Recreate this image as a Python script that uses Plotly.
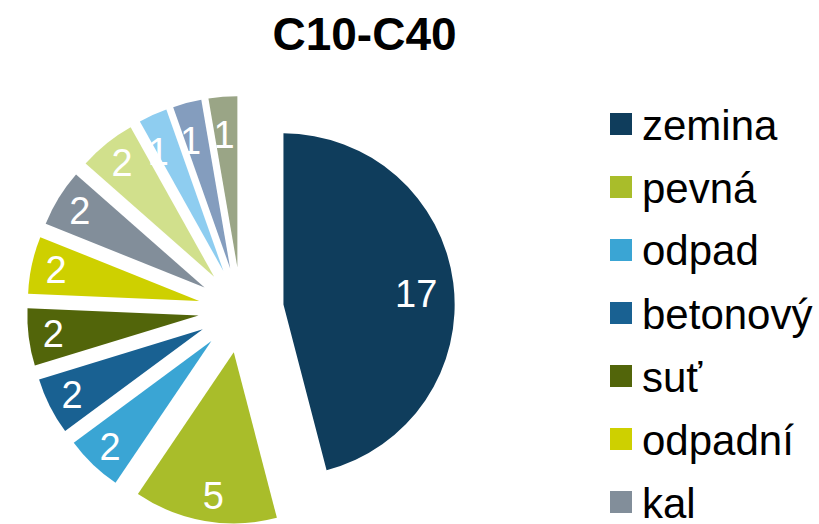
import plotly.graph_objects as go

title_text = "C10-C40"
labels = ["zemina", "pevná", "odpad", "betonový", "suť", "odpadní", "kal",
          "písek", "štěrk", "asfalt", "ostatní"]
values = [17, 5, 2, 2, 2, 2, 2, 2, 1, 1, 1]
colors = ["#0F3D5C", "#A9BD2A", "#3AA5D4", "#196192", "#52650A", "#CED000",
          "#828E9A", "#D1E08C", "#8ECDF0", "#849DBE", "#9AA586"]

W, H = 819, 524
FONT = "Liberation Sans, Arial, sans-serif"
NB = "\u00a0"

# label text: value, nudged for some slices to sit like the reference
texts = [str(v) for v in values]
texts[0] = NB * 9 + texts[0]
for k in (1, 8, 9, 10):
    texts[k] = NB + "<br>" + texts[k]

fig = go.Figure(go.Pie(
    labels=labels,
    values=values,
    text=texts,
    sort=False,
    direction="clockwise",
    rotation=0,
    pull=[0.25] * len(values),
    marker=dict(colors=colors, line=dict(width=0)),
    textinfo="text",
    textposition="inside",
    insidetextorientation="horizontal",
    textfont=dict(family=FONT, size=38, color="white"),
    showlegend=False,
    domain=dict(x=[27 / W, 455 / W], y=[0, 1 - 96 / H]),
    hoverinfo="label+value",
))

# custom legend (large square swatches), built from labels/colors
shapes = []
annotations = []
y0, step = 124, 63
for i, (lab, col) in enumerate(zip(labels, colors)):
    yc = y0 + i * step
    if yc > H + 40:
        break
    shapes.append(dict(type="rect", xref="paper", yref="paper",
                       x0=610 / W, x1=632 / W,
                       y0=1 - (yc - 11) / H, y1=1 - (yc + 11) / H,
                       fillcolor=col, line=dict(width=0)))
    annotations.append(dict(text=lab, xref="paper", yref="paper",
                            x=640 / W, y=1 - (yc + 1) / H,
                            xanchor="left", yanchor="middle", showarrow=False,
                            font=dict(family=FONT, size=42, color="black")))

fig.update_layout(
    width=W, height=H,
    margin=dict(l=0, r=0, t=0, b=0),
    paper_bgcolor="white",
    plot_bgcolor="white",
    title=dict(text="<b>%s</b>" % title_text, x=364.5 / W, y=1 - 34 / H,
               xanchor="center", yanchor="middle", xref="paper", yref="container",
               font=dict(family=FONT, size=46, color="black")),
    uniformtext=dict(minsize=38, mode="show"),
    shapes=shapes,
    annotations=annotations,
)

fig.write_html("out.html",
               config={"displayModeBar": False},
               post_script="document.body.style.margin='0';document.body.style.overflow='hidden';")
